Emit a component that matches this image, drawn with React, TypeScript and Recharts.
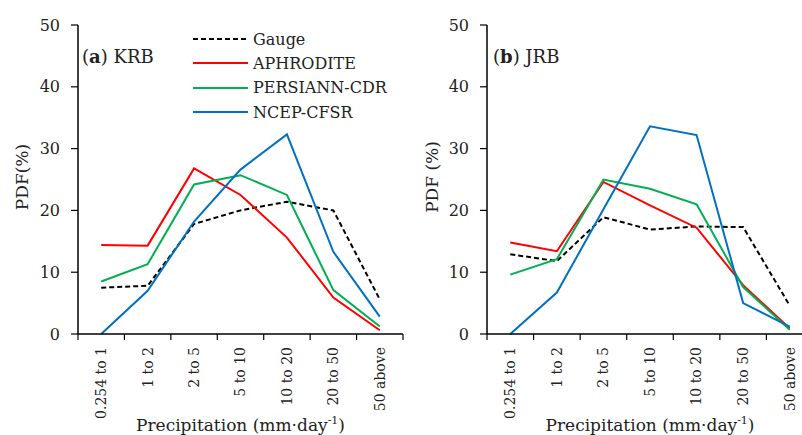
import React from "react";
import { LineChart, Line, XAxis, YAxis, Legend } from "recharts";

const categories = ["0.254 to 1", "1 to 2", "2 to 5", "5 to 10", "10 to 20", "20 to 50", "50 above"];
const yTicks = [0, 10, 20, 30, 40, 50];

const krbGauge = [7.5, 7.8, 17.8, 20.0, 21.4, 20.0, 5.6];
const krbAphrodite = [14.4, 14.3, 26.8, 22.5, 15.6, 5.9, 0.6];
const krbPersiann = [8.5, 11.3, 24.2, 25.7, 22.5, 7.1, 1.2];
const krbNcep = [0, 7.0, 18.2, 26.6, 32.3, 13.3, 2.8];

const jrbGauge = [12.9, 11.8, 18.9, 16.9, 17.4, 17.3, 4.6];
const jrbAphrodite = [14.8, 13.4, 24.6, 20.8, 17.2, 7.9, 0.9];
const jrbPersiann = [9.6, 12.1, 25.0, 23.5, 21.0, 7.6, 0.7];
const jrbNcep = [0, 6.7, 20.2, 33.6, 32.2, 5.0, 1.2];

const FONT = "'DejaVu Serif', 'Liberation Serif', serif";
const TEXT = "#222";
const AXIS_Y = 334;

const series = [
  { key: "gauge", name: "Gauge", color: "#000000", dash: "5 3" },
  { key: "aphrodite", name: "APHRODITE", color: "#FF0000", dash: undefined },
  { key: "persiann", name: "PERSIANN-CDR", color: "#00B050", dash: undefined },
  { key: "ncep", name: "NCEP-CFSR", color: "#0070C0", dash: undefined },
];

function buildRows(g: number[], a: number[], p: number[], n: number[]) {
  return categories.map((category, i) => ({
    category,
    gauge: g[i],
    aphrodite: a[i],
    persiann: p[i],
    ncep: n[i],
  }));
}

const krbData = buildRows(krbGauge, krbAphrodite, krbPersiann, krbNcep);
const jrbData = buildRows(jrbGauge, jrbAphrodite, jrbPersiann, jrbNcep);

function CategoryTick({ x, y, payload, index, bw }: any) {
  const top = AXIS_Y - y;
  const last = index === categories.length - 1;
  return (
    <g transform={`translate(${x},${y})`}>
      <line x1={-bw / 2} y1={top} x2={-bw / 2} y2={top + 6} stroke="#000" strokeWidth={1.2} />
      {last && <line x1={bw / 2} y1={top} x2={bw / 2} y2={top + 6} stroke="#000" strokeWidth={1.2} />}
      <text
        transform="rotate(-90)"
        x={-5}
        y={0}
        dy="0.35em"
        textAnchor="end"
        fontSize={14}
        fontFamily={FONT}
        fill={TEXT}
      >
        {payload.value}
      </text>
    </g>
  );
}

function YTitle({ text, cx, cy }: any) {
  return (
    <text
      x={cx}
      y={cy}
      transform={`rotate(-90 ${cx} ${cy})`}
      textAnchor="middle"
      dominantBaseline="central"
      fontSize={17}
      fontFamily={FONT}
      fill={TEXT}
    >
      {text}
    </text>
  );
}

function XTitle({ cx, cy }: any) {
  return (
    <text x={cx} y={cy} textAnchor="middle" fontSize={17} fontFamily={FONT} fill={TEXT}>
      Precipitation (mm·day
      <tspan dy={-7} fontSize={11}>
        -1
      </tspan>
      <tspan dy={7}>)</tspan>
    </text>
  );
}

function LegendBox() {
  return (
    <div style={{ fontFamily: FONT, fontSize: 16, color: TEXT }}>
      {series.map((s) => (
        <div key={s.key} style={{ display: "flex", alignItems: "center", height: 24.3 }}>
          <svg width={55} height={6} style={{ marginRight: 5 }}>
            <line x1={0} y1={3} x2={55} y2={3} stroke={s.color} strokeWidth={2} strokeDasharray={s.dash} />
          </svg>
          <span>{s.name}</span>
        </div>
      ))}
    </div>
  );
}

type PanelProps = {
  data: any[];
  width: number;
  yAxisWidth: number;
  yTitle: string;
  yTitleX: number;
  showLegend?: boolean;
};

function Panel({ data, width, yAxisWidth, yTitle, yTitleX, showLegend }: PanelProps) {
  const plotW = width - yAxisWidth - 1;
  const bw = plotW / categories.length;
  return (
    <LineChart width={width} height={435} data={data} margin={{ top: 25, right: 1, left: 0, bottom: 0 }}>
      <XAxis
        dataKey="category"
        scale="band"
        interval={0}
        height={101}
        tick={<CategoryTick bw={bw} />}
        tickSize={6}
        tickLine={false}
        axisLine={{ stroke: "#000", strokeWidth: 1.5 }}
        label={<XTitle cx={yAxisWidth + plotW / 2} cy={431} />}
      />
      <XAxis
        xAxisId="top"
        dataKey="category"
        orientation="top"
        height={0}
        tick={false}
        tickLine={false}
        axisLine={{ stroke: "#000", strokeWidth: 1.5 }}
      />
      <YAxis
        domain={[0, 50]}
        ticks={yTicks}
        width={yAxisWidth}
        tickSize={7}
        tickMargin={11}
        tick={{ fontSize: 16, fontFamily: FONT, fill: TEXT }}
        axisLine={{ stroke: "#000", strokeWidth: 1.5 }}
        tickLine={{ stroke: "#000", strokeWidth: 1.2 }}
        label={<YTitle text={yTitle} cx={yTitleX} cy={177} />}
      />
      <YAxis
        yAxisId="right"
        orientation="right"
        width={0}
        domain={[0, 50]}
        tick={false}
        tickLine={false}
        axisLine={{ stroke: "#000", strokeWidth: 1.5 }}
      />
      {series.map((s) => (
        <Line
          key={s.key}
          dataKey={s.key}
          name={s.name}
          type="linear"
          stroke={s.color}
          strokeWidth={2}
          strokeDasharray={s.dash}
          dot={false}
          activeDot={false}
          isAnimationActive={false}
        />
      ))}
      {showLegend && (
        <Legend
          layout="vertical"
          align="center"
          verticalAlign="middle"
          content={<LegendBox />}
          wrapperStyle={{ position: "absolute", left: 193, top: 27, width: 200 }}
        />
      )}
    </LineChart>
  );
}

const panelLabel: React.CSSProperties = {
  position: "absolute",
  fontFamily: FONT,
  fontSize: 18,
  lineHeight: "18px",
  color: TEXT,
  whiteSpace: "nowrap",
};

export default function App() {
  return (
    <div style={{ position: "relative", width: 802, height: 435, overflow: "hidden", background: "#fff" }}>
      <style>{"body{margin:0}"}</style>
      <div style={{ position: "absolute", left: 0, top: 0 }}>
        <Panel data={krbData} width={404} yAxisWidth={78} yTitle="PDF(%)" yTitleX={22} showLegend />
      </div>
      <div style={{ position: "absolute", left: 400, top: 0 }}>
        <Panel data={jrbData} width={414} yAxisWidth={87} yTitle="PDF (%)" yTitleX={32} />
      </div>
      <div style={{ ...panelLabel, left: 82, top: 48 }}>
        (<b>a</b>) KRB
      </div>
      <div style={{ ...panelLabel, left: 493, top: 48 }}>
        (<b>b</b>) JRB
      </div>
    </div>
  );
}
